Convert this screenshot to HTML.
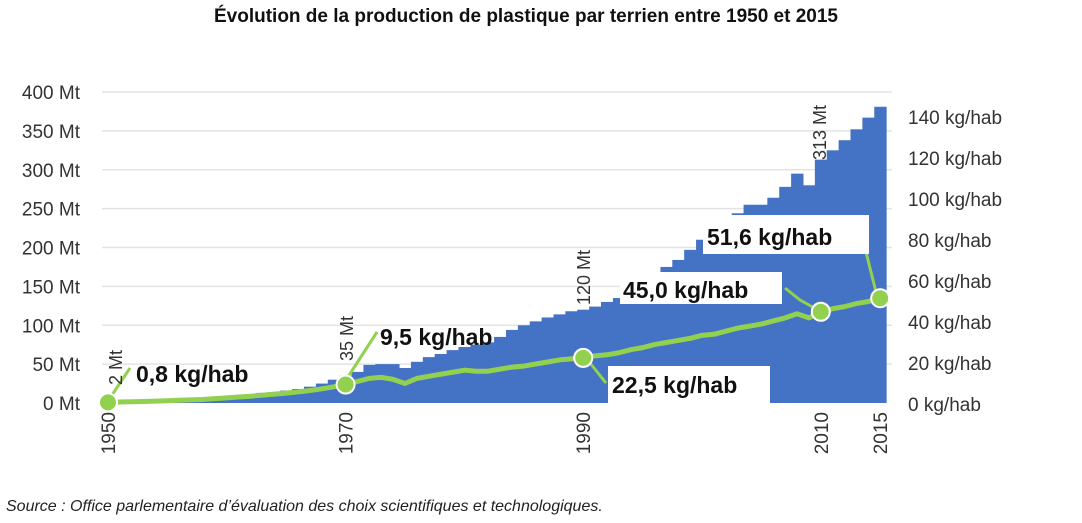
<!DOCTYPE html>
<html><head><meta charset="utf-8"><style>
html,body{margin:0;padding:0;background:#fff;width:1082px;height:523px;overflow:hidden}
svg text{font-family:"Liberation Sans",sans-serif}
</style></head><body>
<svg width="1082" height="523" xmlns="http://www.w3.org/2000/svg">
<text x="526" y="22" text-anchor="middle" font-size="19" font-weight="bold" fill="#111">Évolution de la production de plastique par terrien entre 1950 et 2015</text>
<g id="grid"></g><g id="bars"></g><g id="line"></g><g id="yl"></g><g id="yr"></g><g id="xl"></g><g id="ann"></g>
<text x="6" y="511" font-size="16" font-style="italic" fill="#222">Source : Office parlementaire d’évaluation des choix scientifiques et technologiques.</text>
</svg>
<script>
const years=[];for(let y=1950;y<=2015;y++)years.push(y);
const productionMt=[2,2,3,3,4,5,5,6,7,8,9,10,11,13,14,16,18,21,25,30,35,40,49,50,50,45,53,59,63,68,72,75,78,85,94,100,105,110,114,118,120,124,130,135,142,150,158,175,184,197,210,220,232,244,255,255,264,278,295,280,313,325,338,352,367,381];
const kgPerHab=[0.8,1.0,1.1,1.2,1.4,1.6,1.8,2.0,2.2,2.6,3.0,3.4,3.8,4.3,4.8,5.3,5.9,6.6,7.4,8.4,9.5,11,12.5,13,12,10,12.5,13.5,14.5,15.5,16.5,16,16,17,18,18.5,19.5,20.5,21.5,22,22.5,23.5,24,25,26.5,27.5,29,30,31,32,33.5,34,35.5,37,38,39,40.5,42,44,42,45,46.5,47.5,49,50,51.6];
const leftTicks=[0,50,100,150,200,250,300,350,400];
const rightTicks=[0,20,40,60,80,100,120,140];
const xTickYears=[1950,1970,1990,2010,2015];
const NS="http://www.w3.org/2000/svg";
const bw=11.88;
const x=y=>108+(y-1950)*bw;
const yL=v=>403-v*0.7775;
const yR=v=>404-v*2.05;
function mk(t,a,p){const e=document.createElementNS(NS,t);for(const k in a)e.setAttribute(k,a[k]);document.getElementById(p).appendChild(e);return e;}
leftTicks.forEach(v=>{
 if(v>0){const g=mk('line',{x1:102,x2:892,y1:yL(v),y2:yL(v),stroke:'#e3e3e3','stroke-width':1.5},'grid');
 
 }
 const t=mk('text',{x:80,y:yL(v)+7,'text-anchor':'end','font-size':19,fill:'#333'},'yl');t.textContent=v+' Mt';
 
 
});
rightTicks.forEach(v=>{
 const t=mk('text',{x:908,y:yR(v)+7,'font-size':19,fill:'#333'},'yr');t.textContent=v+' kg/hab';
 
 
});
years.forEach((yr,i)=>{
 const r=mk('rect',{x:x(yr)-bw/2,y:yL(productionMt[i]),width:bw+0.5,height:403-yL(productionMt[i]),fill:'#4472c4'},'bars');
 
 
});
const pts=years.map((yr,i)=>x(yr)+','+yR(kgPerHab[i])).join(' ');
const pl=mk('polyline',{points:pts,fill:'none',stroke:'#92d050','stroke-width':5,'stroke-linejoin':'round'},'line');


xTickYears.forEach(yr=>{
 const t=mk('text',{x:0,y:0,'font-size':19,fill:'#333','text-anchor':'end',transform:`translate(${x(yr)+7},412) rotate(-90)`},'xl');t.textContent=yr;
 
 
});
function dot(yr){const i=years.indexOf(yr);const c=mk('circle',{cx:x(yr),cy:yR(kgPerHab[i]),r:9,fill:'#92d050',stroke:'#fff','stroke-width':2},'ann');
 
 return [x(yr),yR(kgPerHab[i])];}
function lead(p){const l=mk('polyline',{points:p,fill:'none',stroke:'#92d050','stroke-width':3},'ann');
 
 }
function box(x0,y0,w,h){const r=mk('rect',{x:x0,y:y0,width:w,height:h,fill:'#fff'},'ann');
 
 }
function lbl(s,xx,yy,name){const t=mk('text',{x:xx,y:yy,'font-size':23,'font-weight':'bold',fill:'#111'},'ann');t.textContent=s;
 
 }
function rot(s,xx,yy,name){const t=mk('text',{x:0,y:0,'font-size':18,fill:'#333',transform:`translate(${xx},${yy}) rotate(-90)`},'ann');t.textContent=s;
 
 }
lead('110,398 130,368');lead('346,380 377,332');lead('586,358 606,383');lead('785,288 800,300 818,310');lead('866,252 878,300');
box(608,366,162,38);box(620,272,162,32);box(703,215,166,39);
lbl('0,8 kg/hab',136,382,'callout-1950');lbl('9,5 kg/hab',380,345,'callout-1970');
lbl('22,5 kg/hab',612,393,'callout-1990');lbl('45,0 kg/hab',623,298,'callout-2010');lbl('51,6 kg/hab',707,245,'callout-2015');
rot('2 Mt',122,385,'label-2mt');rot('35 Mt',353,361,'label-35mt');rot('120 Mt',590,305,'label-120mt');rot('313 Mt',826,160,'label-313mt');
dot(1950);dot(1970);dot(1990);dot(2010);dot(2015);
</script>
</body></html>
